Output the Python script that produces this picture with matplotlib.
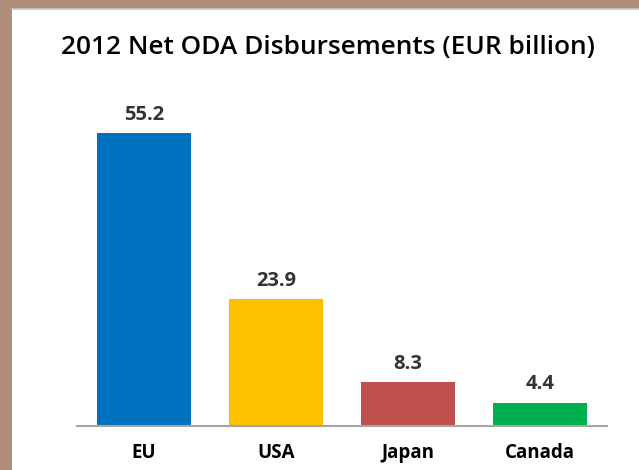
import matplotlib
matplotlib.use("Agg")
import matplotlib.pyplot as plt
from matplotlib.patches import Rectangle

# data
categories = ["EU", "USA", "Japan", "Canada"]
values = [55.2, 23.9, 8.3, 4.4]
colors = ["#0070C0", "#FFC000", "#C0504D", "#00B050"]
title = "2012 Net ODA Disbursements (EUR billion)"

plt.rcParams["font.family"] = ["Open Sans", "DejaVu Sans"]

W, H = 639, 470
fig = plt.figure(figsize=(W / 100, H / 100), dpi=100)
fig.patch.set_facecolor("#B08E7A")

# white panel
fig.add_artist(Rectangle((12 / W, 0), 1 - 12 / W, 1 - 9 / H,
                         transform=fig.transFigure, facecolor="white",
                         edgecolor="none", zorder=-5))
fig.add_artist(plt.Line2D([12 / W, 1], [1 - 9 / H, 1 - 9 / H],
                          transform=fig.transFigure, color="#C8C8C8", lw=1.2,
                          zorder=-4))

ax = fig.add_axes([77 / W, 44 / H, (607 - 77) / W, (426 - 100) / H])
ax.set_facecolor("none")
ax.set_zorder(2)

x = range(len(categories))
bars = ax.bar(x, values, width=0.712, color=colors)

for bar, v in zip(bars, values):
    ax.annotate(f"{v:.1f}", (bar.get_x() + bar.get_width() / 2, v),
                xytext=(0, 6), textcoords="offset points",
                ha="center", va="bottom", fontsize=14.5, fontweight="bold",
                color="#333333")

ax.set_xlim(-0.508, 3.508)
ax.set_ylim(0, (426 - 100) / 5.31)
ax.set_xticks(list(x))
ax.set_xticklabels(categories, fontsize=13.5, fontweight="bold")
ax.tick_params(axis="x", length=0, pad=12)
ax.set_yticks([])
for s in ["top", "right", "left"]:
    ax.spines[s].set_visible(False)
ax.spines["bottom"].set_color("#A6A6A6")
ax.spines["bottom"].set_linewidth(1.5)

fig.text(328 / W, 1 - 47 / H, title, ha="center", va="center",
         fontsize=18.9, fontweight="semibold", color="black", zorder=3)

fig.savefig("out.png", dpi=100, facecolor=fig.get_facecolor())
